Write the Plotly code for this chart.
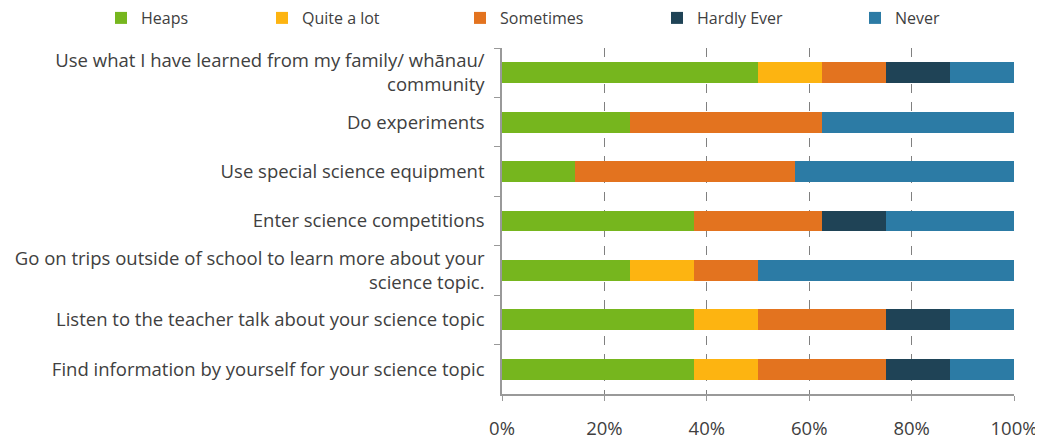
import plotly.graph_objects as go

categories = [
    "Use what I have learned from my family/ whānau/<br>community",
    "Do experiments",
    "Use special science equipment",
    "Enter science competitions",
    "Go on trips outside of school to learn more about your<br>science topic.",
    "Listen to the teacher talk about your science topic",
    "Find information by yourself for your science topic",
]
heaps = [50.0, 25.0, 14.3, 37.5, 25.0, 37.5, 37.5]
quite_a_lot = [12.5, 0, 0, 0, 12.5, 12.5, 12.5]
sometimes = [12.5, 37.5, 42.85, 25.0, 12.5, 25.0, 25.0]
hardly_ever = [12.5, 0, 0, 12.5, 0, 12.5, 12.5]
never = [12.5, 37.5, 42.85, 25.0, 50.0, 12.5, 12.5]

series = [
    ("Heaps", heaps, "#76B61E"),
    ("Quite a lot", quite_a_lot, "#FDB411"),
    ("Sometimes", sometimes, "#E3731F"),
    ("Hardly Ever", hardly_ever, "#1F4356"),
    ("Never", never, "#2C7BA5"),
]
tick_vals = [0, 20, 40, 60, 80, 100]
tick_text = ["0%", "20%", "40%", "60%", "80%", "100%"]

# the page body adds an 8px margin, so the figure is 8px smaller than the window
W, H = 1035, 431
legend_px = [93, 254, 452, 649, 847]
legend_names = ["legend", "legend2", "legend3", "legend4", "legend5"]

fig = go.Figure()
for (name, vals, color), lg in zip(series, legend_names):
    fig.add_trace(go.Bar(
        y=categories, x=vals, name=name, orientation="h",
        marker=dict(color=color, line=dict(width=0)),
        legend=lg,
    ))

font_family = "Open Sans, Lato, sans-serif"
legend_layout = {}
for lg, px in zip(legend_names, legend_px):
    legend_layout[lg] = dict(
        orientation="h", xref="container", yref="container",
        x=px / W, y=1 - 10 / H, xanchor="left", yanchor="middle",
        font=dict(size=16, color="#404040"), itemwidth=30,
        bgcolor="rgba(0,0,0,0)",
    )

fig.update_layout(
    barmode="stack",
    bargap=0.58,
    width=W, height=H,
    margin=dict(l=494, r=29, t=40, b=45, autoexpand=False),
    paper_bgcolor="white", plot_bgcolor="white",
    font=dict(family=font_family, size=18.5, color="#404040"),
    showlegend=True,
    **legend_layout,
)
fig.update_xaxes(
    range=[0, 100], tickvals=tick_vals, ticktext=tick_text,
    showgrid=True, gridcolor="#808080", griddash="dash", gridwidth=1,
    showline=True, linecolor="#999999", linewidth=1.5,
    ticks="outside", ticklen=5, tickcolor="#999999",
    ticklabelstandoff=12, zeroline=False, fixedrange=True,
)
fig.update_yaxes(
    autorange="reversed", showline=True, linecolor="#999999", linewidth=1.5,
    ticks="outside", ticklen=6, tickcolor="#999999", tickson="boundaries",
    ticklabelstandoff=12, showgrid=False, fixedrange=True,
)
fig.write_html("out.html")
